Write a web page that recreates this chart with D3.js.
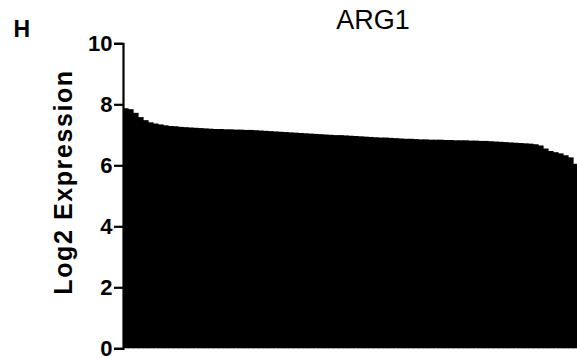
<!DOCTYPE html>
<html><head><meta charset="utf-8">
<script src="https://cdn.jsdelivr.net/npm/d3@7/dist/d3.min.js"></script>
<style>body{margin:0;background:#fff}svg{display:block}</style>
</head><body>
<script>
const title = "ARG1";
const panelLabel = "H";
const yLabel = "Log2 Expression";
const yTicks = [0, 2, 4, 6, 8, 10];
const values = [7.87,7.84,7.72,7.58,7.48,7.41,7.37,7.34,7.31,7.29,7.28,7.26,7.25,7.24,7.23,7.22,7.21,7.20,7.19,7.19,7.18,7.18,7.17,7.17,7.16,7.16,7.15,7.14,7.13,7.12,7.11,7.10,7.09,7.08,7.07,7.06,7.05,7.04,7.03,7.02,7.01,7.00,6.99,6.99,6.98,6.97,6.96,6.95,6.94,6.93,6.92,6.91,6.91,6.90,6.89,6.88,6.87,6.87,6.86,6.85,6.85,6.84,6.84,6.84,6.83,6.83,6.82,6.82,6.82,6.81,6.81,6.80,6.80,6.79,6.78,6.77,6.76,6.75,6.74,6.73,6.72,6.71,6.69,6.65,6.55,6.47,6.43,6.39,6.33,6.26,6.05];
const samples = values.map((v, i) => "S" + (i + 1));

const W = 577, H = 358;
const svg = d3.select("body").append("svg").attr("width", W).attr("height", H);
const font = "Liberation Sans, Arial, Helvetica, sans-serif";

const y = d3.scaleLinear().domain([0, 10]).range([348.3, 43.3]);
const x = d3.scaleBand().domain(samples).range([123, 578]).padding(0);

svg.append("g").selectAll("rect").data(values).join("rect")
  .attr("x", (d, i) => x(samples[i]))
  .attr("y", d => y(d))
  .attr("width", x.bandwidth() + 0.6)
  .attr("height", d => y(0) - y(d))
  .attr("fill", "#000");

const ax = svg.append("g").attr("transform", "translate(123,0)")
  .call(d3.axisLeft(y).tickValues(yTicks).tickSize(9).tickPadding(1.5).tickFormat(d3.format("d")));
ax.select(".domain").attr("stroke", "#000").attr("stroke-width", 2.2);
ax.selectAll(".tick line").attr("stroke", "#000").attr("stroke-width", 2.2);
ax.selectAll(".tick text").attr("font-family", font).attr("font-weight", "bold")
  .attr("font-size", 22).attr("fill", "#000").attr("dy", "0.32em");

svg.append("text").attr("x", 373).attr("y", 28.5).attr("text-anchor", "middle")
  .attr("font-family", font).attr("font-size", 27).attr("fill", "#000").text(title);

svg.append("text").attr("x", 13.5).attr("y", 36.5)
  .attr("font-family", font).attr("font-weight", "bold").attr("font-size", 23).attr("fill", "#000").text(panelLabel);

svg.append("text").attr("transform", "translate(72,182) rotate(-90)").attr("text-anchor", "middle")
  .attr("font-family", font).attr("font-weight", "bold").attr("font-size", 25)
  .attr("letter-spacing", 1.6).attr("fill", "#000").text(yLabel);
</script>
</body></html>
